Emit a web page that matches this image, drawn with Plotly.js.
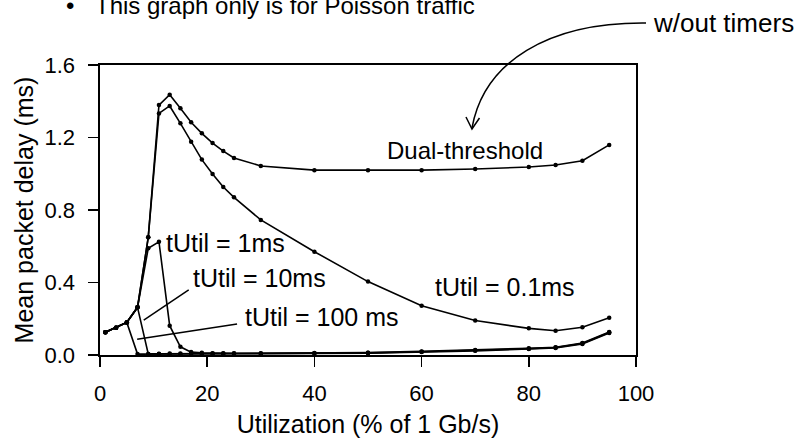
<!DOCTYPE html>
<html>
<head>
<meta charset="utf-8">
<script src="https://cdn.plot.ly/plotly-3.0.1.min.js"></script>
<style>
  html, body { margin: 0; padding: 0; background: #ffffff; }
  #chart { width: 799px; height: 439px; }
</style>
</head>
<body>
<div id="chart"></div>
<script>
// Utilization levels (% of 1 Gb/s) at which delay was measured
const utilization = [1, 3, 5, 7, 9, 11, 13, 15, 17, 19, 21, 23, 25, 30, 40, 50, 60, 70, 80, 85, 90, 95];

// Mean packet delay (ms) for each scheme
const dualThreshold = [0.125, 0.151, 0.180, 0.263, 0.649, 1.379, 1.436, 1.361, 1.284, 1.223, 1.169, 1.125, 1.087, 1.043, 1.020, 1.020, 1.020, 1.026, 1.037, 1.048, 1.072, 1.159];
const tUtil01ms = [0.125, 0.151, 0.180, 0.263, 0.649, 1.333, 1.374, 1.278, 1.176, 1.078, 0.999, 0.927, 0.870, 0.745, 0.570, 0.405, 0.272, 0.190, 0.147, 0.134, 0.153, 0.206];
const tUtil1ms = [0.125, 0.151, 0.180, 0.263, 0.589, 0.625, 0.162, 0.045, 0.016, 0.012, 0.010, 0.010, 0.010, 0.010, 0.011, 0.013, 0.020, 0.027, 0.037, 0.043, 0.066, 0.127];
const tUtil10ms = [0.125, 0.151, 0.180, 0.263, 0.006, 0.007, 0.008, 0.008, 0.008, 0.008, 0.008, 0.008, 0.008, 0.008, 0.010, 0.012, 0.018, 0.025, 0.035, 0.041, 0.063, 0.124];
const tUtil100ms = [0.125, 0.151, 0.180, 0.005, 0.005, 0.005, 0.006, 0.006, 0.006, 0.006, 0.006, 0.006, 0.006, 0.006, 0.008, 0.010, 0.016, 0.023, 0.033, 0.039, 0.061, 0.122];

// Tick labels
const xTicks = [0, 20, 40, 60, 80, 100];
const yTicks = [0, 0.4, 0.8, 1.2, 1.6];
const yTickText = ['0.0', '0.4', '0.8', '1.2', '1.6'];

const FONT = 'Liberation Sans, Arial, Helvetica, sans-serif';
const INK = '#000000';

function series(y, name) {
  return {
    x: utilization, y: y, name: name,
    type: 'scatter', mode: 'lines+markers',
    line: { color: INK, width: 1.6 },
    marker: { color: INK, size: 4.5 },
    cliponaxis: false,
    hoverinfo: 'skip'
  };
}

const traces = [
  series(tUtil100ms, 'tUtil = 100 ms'),
  series(tUtil10ms, 'tUtil = 10ms'),
  series(tUtil1ms, 'tUtil = 1ms'),
  series(tUtil01ms, 'tUtil = 0.1ms'),
  series(dualThreshold, 'Dual-threshold')
];

// Plot frame in pixels
const W = 799, H = 439;
const M = { l: 100, r: 163, t: 65, b: 84 };
const pw = W - M.l - M.r, ph = H - M.t - M.b;
// pixel -> paper coordinates for decorations drawn outside the axes
const px = v => (v - M.l) / pw;
const py = v => (H - M.b - v) / ph;
const pt = (x, y) => px(x).toFixed(4) + ',' + py(y).toFixed(4);

function label(text, x, y, size) {
  return { text: text, x: x, y: y, xref: 'x', yref: 'y', xanchor: 'left', yanchor: 'middle',
           showarrow: false, font: { family: FONT, size: size, color: INK } };
}

const annotations = [
  label('Dual-threshold', 53.2, 1.127, 24),
  label('tUtil = 0.1ms', 62.2, 0.377, 25),
  label('tUtil = 1ms', 12.0, 0.618, 25),
  label('tUtil = 10ms', 16.9, 0.425, 25),
  label('tUtil = 100 ms', 26.7, 0.211, 25),
  { text: 'w/out timers', x: px(651), y: py(23), xref: 'paper', yref: 'paper',
    xanchor: 'left', yanchor: 'middle', showarrow: false,
    font: { family: FONT, size: 26, color: INK } },
  { text: '•', x: px(69.5), y: py(5), xref: 'paper', yref: 'paper',
    xanchor: 'center', yanchor: 'middle', showarrow: false,
    font: { family: FONT, size: 24, color: INK } },
  { text: 'This graph only is for Poisson traffic', x: px(93), y: py(6), xref: 'paper', yref: 'paper',
    xanchor: 'left', yanchor: 'middle', showarrow: false,
    font: { family: FONT, size: 24, color: INK } }
];

const shapes = [
  // leader lines for the tUtil labels
  { type: 'line', xref: 'x', yref: 'y', x0: 8.16, y0: 0.193, x1: 16.55, y1: 0.359,
    line: { color: INK, width: 1.5 } },
  { type: 'line', xref: 'x', yref: 'y', x0: 6.93, y0: 0.087, x1: 25.57, y1: 0.171,
    line: { color: INK, width: 1.5 } },
  // curved pointer from "w/out timers" down to the dual-threshold curve
  { type: 'path', xref: 'paper', yref: 'paper',
    path: 'M' + pt(646, 23) + ' C' + pt(548, 22) + ' ' + pt(484, 62) + ' ' + pt(472, 128),
    line: { color: INK, width: 1.5 } },
  { type: 'path', xref: 'paper', yref: 'paper',
    path: 'M' + pt(466, 117) + ' L' + pt(472, 129) + ' L' + pt(479.5, 118),
    line: { color: INK, width: 1.5 } }
];

const axisCommon = {
  showgrid: false, zeroline: false,
  showline: true, linecolor: INK, linewidth: 1.6, mirror: true,
  ticks: 'outside', ticklen: 10, tickwidth: 1.5, tickcolor: INK,
  tickfont: { family: FONT, size: 22, color: INK },
  fixedrange: true
};

const layout = {
  width: W, height: H,
  margin: M,
  paper_bgcolor: '#ffffff', plot_bgcolor: '#ffffff',
  showlegend: false,
  font: { family: FONT, color: INK },
  xaxis: Object.assign({}, axisCommon, {
    range: [0, 100], tickvals: xTicks, ticklabelstandoff: 8,
    title: { text: 'Utilization (% of 1 Gb/s)', font: { family: FONT, size: 25, color: INK }, standoff: 10 }
  }),
  yaxis: Object.assign({}, axisCommon, {
    range: [0, 1.6], tickvals: yTicks, ticktext: yTickText, ticklabelstandoff: 9,
    title: { text: 'Mean packet delay (ms)', font: { family: FONT, size: 25, color: INK }, standoff: 3 }
  }),
  annotations: annotations,
  shapes: shapes
};

Plotly.newPlot('chart', traces, layout, { staticPlot: true, displayModeBar: false });
</script>
</body>
</html>
